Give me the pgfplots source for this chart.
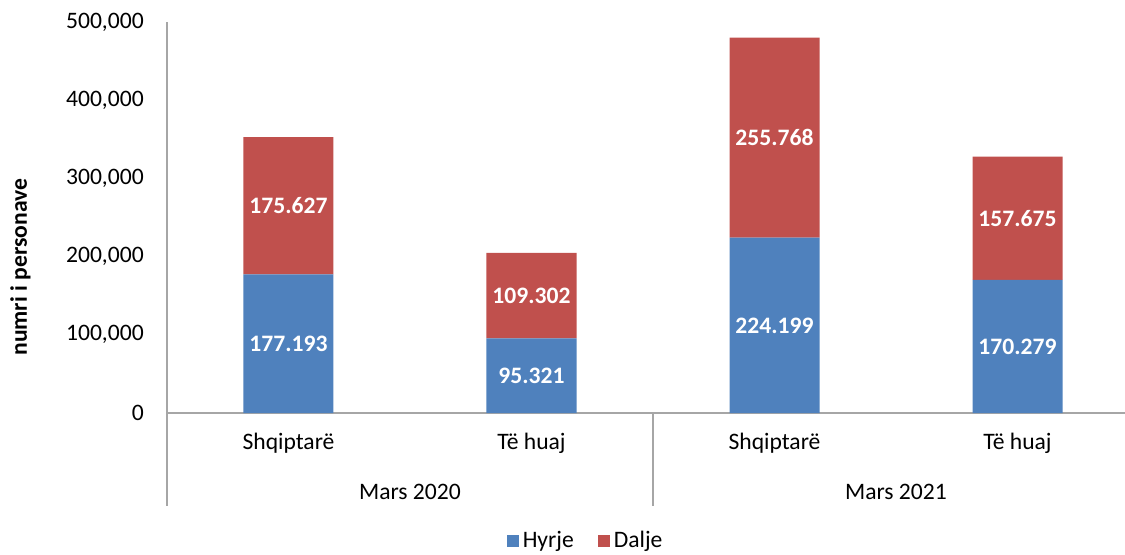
\documentclass[border=0pt]{standalone}
\usepackage{fontspec}
\setmainfont{Carlito}
\usepackage{pgfplots}
\pgfplotsset{compat=1.18}
\usepackage{pgfplotstable}
\definecolor{cblue}{HTML}{4F81BD}
\definecolor{cred}{HTML}{C0504D}
\definecolor{axgray}{HTML}{A6A6A6}
% values in thousands of persons
\pgfplotstableread{
x hyrje dalje
0 177.193 175.627
1 95.321 109.302
2 224.199 255.768
3 170.279 157.675
}\data
\begin{document}
\fontsize{11.8}{14}\selectfont
\begin{tikzpicture}
\begin{axis}[
  name=ax, at={(0,0)}, anchor=south west,
  scale only axis, width=479pt, height=195.5pt,
  xmin=-0.5, xmax=3.4424, ymin=0, ymax=500,
  ybar stacked, bar width=45pt,
  axis x line=bottom, axis y line=left,
  axis line style={-, axgray, line width=0.75pt},
  xtick={0,1,2,3}, xticklabels={Shqiptarë, Të huaj, Shqiptarë, Të huaj},
  major tick length=0pt,
  ytick={0,100,200,300,400,500},
  yticklabels={0,{100,000},{200,000},{300,000},{400,000},{500,000}},
  yticklabel style={xshift=-7.5pt},
  xticklabel style={yshift=-6pt},
  ylabel={\bfseries numri i personave},
  ylabel style={at={(axis description cs:-0.153,0.373)}, anchor=center},
  clip=false,
  nodes near coords, point meta=explicit symbolic,
  every node near coord/.append style={font=\bfseries, text=white, anchor=center},
  legend style={at={(0.438,-0.328)}, anchor=center, legend columns=2, draw=none, fill=none,
    /tikz/every even column/.append style={column sep=10pt}},
  legend image code/.code={\fill[#1] (0pt,-3pt) rectangle (6pt,3pt);},
]
\addplot[fill=cblue, draw=none]
  table[x=x, y=hyrje, meta=hyrje] {\data};
\addlegendentry{Hyrje}
\addplot[fill=cred, draw=none]
  table[x=x, y=dalje, meta=dalje] {\data};
\addlegendentry{Dalje}
\draw[axgray, line width=0.75pt] (axis cs:-0.5,0) -- ([yshift=-46.5pt]axis cs:-0.5,0);
\draw[axgray, line width=0.75pt] (axis cs:1.5,0) -- ([yshift=-46.5pt]axis cs:1.5,0);
\node at ([yshift=-39.5pt]axis cs:0.5,0) {Mars 2020};
\node at ([yshift=-39.5pt]axis cs:2.5,0) {Mars 2021};
\end{axis}
\pgfresetboundingbox
\path ([xshift=-83.5pt,yshift=-70.5pt]ax.south west) rectangle ([xshift=479pt,yshift=206.5pt]ax.south west);
\end{tikzpicture}
\end{document}
